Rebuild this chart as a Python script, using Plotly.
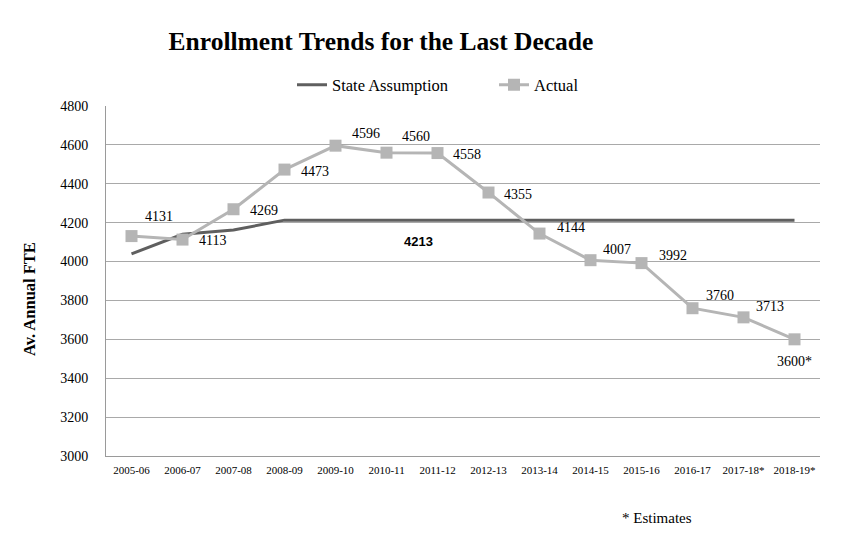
import plotly.graph_objects as go

years = ["2005-06", "2006-07", "2007-08", "2008-09", "2009-10", "2010-11", "2011-12",
         "2012-13", "2013-14", "2014-15", "2015-16", "2016-17", "2017-18*", "2018-19*"]
state_assumption = [4040, 4140, 4162, 4213, 4213, 4213, 4213, 4213, 4213, 4213, 4213, 4213, 4213, 4213]
actual = [4131, 4113, 4269, 4473, 4596, 4560, 4558, 4355, 4144, 4007, 3992, 3760, 3713, 3600]
actual_labels = ["4131", "4113", "4269", "4473", "4596", "4560", "4558", "4355", "4144",
                 "4007", "3992", "3760", "3713", "3600*"]
state_label = "4213"
y_ticks = [3000, 3200, 3400, 3600, 3800, 4000, 4200, 4400, 4600, 4800]

# label placement offsets in pixels (style only)
label_dx = [11, 14, 14, 14, 14, 13, 13, 13, 15, 10, 15, 11, 10, 0]
label_dy = [20, -1, -1, -2, 12, 16, -1, -2, 6, 11, 8, 13, 11, -22]

serif = "Liberation Serif"
sans = "Liberation Sans"

fig = go.Figure()
fig.add_trace(go.Scatter(
    x=years, y=state_assumption, mode="lines", name="State Assumption",
    line=dict(color="#5f5f5f", width=3), legend="legend",
))
fig.add_trace(go.Scatter(
    x=years, y=actual, mode="lines+markers", name="Actual",
    line=dict(color="#b5b5b5", width=3),
    marker=dict(symbol="square", size=12, color="#b5b5b5"), legend="legend2",
))

for i, (yr, val, lab) in enumerate(zip(years, actual, actual_labels)):
    last = i == len(years) - 1
    fig.add_annotation(x=yr, y=val, text=lab, showarrow=False,
                       xanchor="center" if last else "left", yanchor="middle",
                       xshift=label_dx[i], yshift=label_dy[i],
                       font=dict(family=serif, size=14, color="#000000"))

fig.add_annotation(x=5.63, y=state_assumption[5], text="<b>" + state_label + "</b>",
                   showarrow=False, yshift=-21,
                   font=dict(family=sans, size=13, color="#000000"))
fig.add_annotation(xref="paper", yref="paper", x=0.772, y=-0.177, text="* Estimates",
                   showarrow=False, xanchor="center", yanchor="middle",
                   font=dict(family=serif, size=15, color="#000000"))
# y-axis title (placed as in the reference, slightly below the axis centre)
fig.add_annotation(xref="paper", yref="paper", x=(29 - 106) / 714, y=(456 - 299) / 350,
                   text="<b>Av. Annual FTE</b>", textangle=-90, showarrow=False,
                   xanchor="center", yanchor="middle",
                   font=dict(family=serif, size=16.5, color="#000000"))

leg_common = dict(orientation="h", y=1.06, yanchor="middle", xanchor="left",
                  font=dict(family=serif, size=16.5, color="#000000"),
                  bgcolor="rgba(0,0,0,0)", borderwidth=0)
fig.update_layout(
    width=851, height=547,
    margin=dict(l=106, r=31, t=106, b=91),
    paper_bgcolor="white", plot_bgcolor="white",
    title=dict(text="<b>Enrollment Trends for the Last Decade</b>", x=0.4477, xanchor="center",
               y=0.925, yanchor="middle",
               font=dict(family=serif, size=25.5, color="#000000")),
    legend=dict(x=(292 - 106) / 714, **leg_common),
    legend2=dict(x=(494 - 106) / 714, **leg_common),
    showlegend=True,
)
fig.update_xaxes(
    type="category", range=[-0.5, 13.5], showgrid=False,
    showline=True, linecolor="#9a9a9a", linewidth=1,
    ticks="", ticklabelstandoff=4, tickfont=dict(family=serif, size=11, color="#000000"),
)
fig.update_yaxes(
    range=[3000, 4800], tickvals=y_ticks, showgrid=True, gridcolor="#a9a9a9", gridwidth=1,
    showline=True, linecolor="#9a9a9a", linewidth=1, zeroline=False,
    ticks="", ticklabelstandoff=14,
    tickfont=dict(family=serif, size=14, color="#000000"),
)

fig.write_html("out.html")
